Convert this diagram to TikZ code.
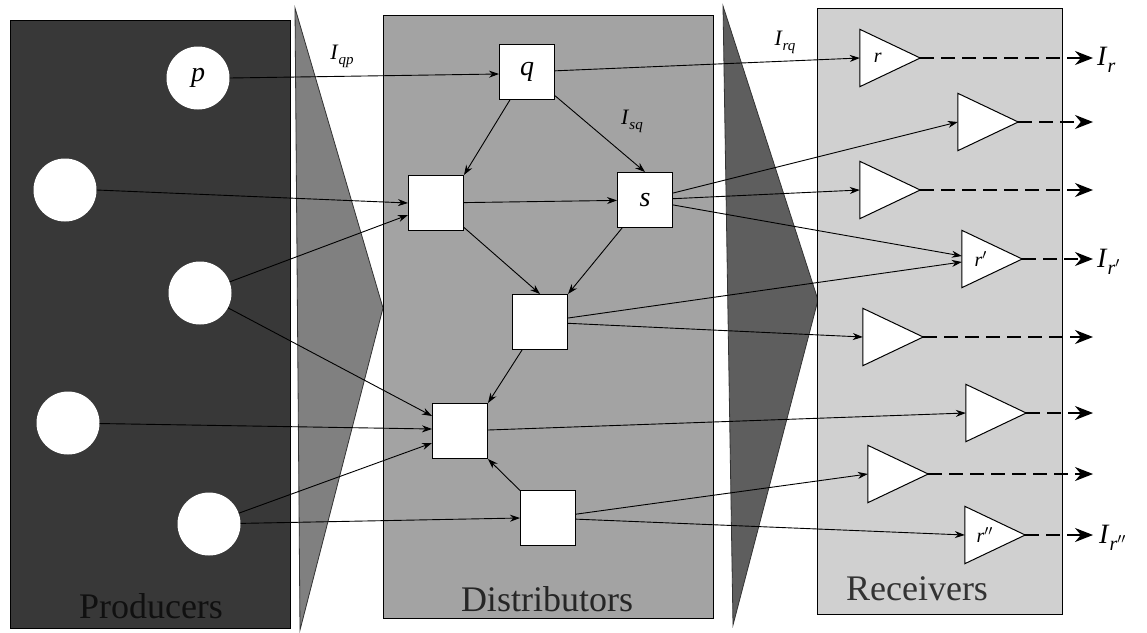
\documentclass[tikz,border=0pt]{standalone}
\usepackage{fontspec}
\setmainfont{Liberation Serif}
\usetikzlibrary{arrows.meta}
\definecolor{prodfill}{HTML}{383838}
\definecolor{wedgeA}{HTML}{808080}
\definecolor{distfill}{HTML}{A3A3A3}
\definecolor{wedgeB}{HTML}{5E5E5E}
\definecolor{recvfill}{HTML}{D0D0D0}
\definecolor{prodtext}{HTML}{101010}
\tikzset{
  panel/.style={draw=black, line width=1pt},
  wedge/.style={draw=black!80, line width=0.8pt},
  paneltitle/.style={font=\fontsize{36}{40}\selectfont\rmfamily, inner sep=0pt},
  prodnode/.style={circle, fill=white, minimum size=63pt, inner sep=0pt, font=\fontsize{28}{30}\selectfont\itshape},
  distbox/.style={rectangle, draw=black, line width=1pt, fill=white, minimum size=55pt, inner sep=0pt, font=\fontsize{28}{30}\selectfont\itshape},
  recvframe/.style={rectangle, minimum width=60pt, minimum height=57pt, inner sep=0pt},
  trishape/.style={draw=black, line width=1pt, fill=white, line join=miter},
  trilabel/.style={inner sep=0pt, font=\fontsize{20}{22}\selectfont\itshape},
  flow/.style={draw=black, line width=0.9pt, -{Stealth[length=10pt,width=7pt]}},
  outflow/.style={draw=black, line width=1.4pt, dash pattern=on 14pt off 7pt, -{Stealth[length=18pt,width=14pt]}},
  flowlabel/.style={inner sep=0pt, font=\fontsize{22}{24}\selectfont},
  outlabel/.style={inner sep=0pt, anchor=west, font=\fontsize{28}{30}\selectfont},
}
\begin{document}
\begin{tikzpicture}[x=1pt, y=-1pt]
\useasboundingbox (0,0) rectangle (1147,632);
% panels and wedges
\fill[white] (0,0) rectangle (1147,632);
\draw[panel, fill=prodfill] (10,20) rectangle (290,628);
\draw[wedge, fill=wedgeA] (295,8) -- (383,308) -- (300,630) -- cycle;
\draw[panel, fill=distfill] (383,15) rectangle (713,618);
\draw[wedge, fill=wedgeB] (723,6) -- (818,300) -- (733,625) -- cycle;
\draw[panel, fill=recvfill] (817,8) rectangle (1062,614);
\node[paneltitle, text=prodtext] (tprod) at (151,606) {Producers};
\node[paneltitle, text=black!85] (tdist) at (547,599) {Distributors};
\node[paneltitle, text=black!80] (trecv) at (917,589) {Receivers};
% producers
\node[prodnode] (p) at (198,78) {p};
\node[prodnode] (c2) at (65,190) {};
\node[prodnode] (c3) at (200,293) {};
\node[prodnode] (c4) at (68,423) {};
\node[prodnode] (c5) at (209,524) {};
% distributors
\node[distbox] (q) at (527,72) {q};
\node[distbox] (b2) at (436,203) {};
\node[distbox] (s) at (645,200) {s};
\node[distbox] (b4) at (540,322) {};
\node[distbox] (b5) at (460,431) {};
\node[distbox] (b6) at (548,518) {};
% receivers
\node[recvframe] (r1) at (890,58) {};
\node[recvframe] (r2) at (988,122) {};
\node[recvframe] (r3) at (890,190) {};
\node[recvframe] (r4) at (992,259) {};
\node[recvframe] (r5) at (893,337) {};
\node[recvframe] (r6) at (996,413) {};
\node[recvframe] (r7) at (898,474) {};
\node[recvframe] (r8) at (995,535) {};
\foreach \t in {r1,r2,r3,r4,r5,r6,r7,r8}{
  \draw[trishape] (\t.north west) -- (\t.east) -- (\t.south west) -- cycle;
}
\node[trilabel] (lr1) at ([xshift=18pt]r1.west) {r};
\node[trilabel] (lr4) at ([xshift=19pt]r4.west) {r$'$};
\node[trilabel] (lr8) at ([xshift=20pt]r8.west) {r$''$};
% producer -> distributor
\draw[flow] (p.east) -- ([yshift=-2pt]q.west);
\draw[flow] (c2.east) -- (b2.west);
\draw[flow] (c3) -- ([yshift=-12pt]b2.west);
\draw[flow] (c3) -- ([yshift=15pt]b5.west);
\draw[flow] (c4) -- ([yshift=2pt]b5.west);
\draw[flow] (c5) -- ([yshift=-12pt]b5.west);
\draw[flow] (c5) -- (b6.west);
% inside distributors
\draw[flow] (q) -- (b2.north east);
\draw[flow] (q) -- (s.north);
\draw[flow] (b2) -- (s);
\draw[flow] (b2) -- (b4.north);
\draw[flow] (s) -- (b4.north east);
\draw[flow] (b4) -- (b5.north east);
\draw[flow] (b6) -- (b5.south east);
% distributor -> receiver
\draw[flow] (q) -- (r1.west);
\draw[flow] (s) -- (r2.west);
\draw[flow] (s) -- (r3.west);
\draw[flow] (s) -- ([yshift=3pt]r4.west);
\draw[flow] (b4) -- ([yshift=-3pt]r4.west);
\draw[flow] (b4) -- (r5.west);
\draw[flow] (b5) -- (r6.west);
\draw[flow] (b6) -- (r7.west);
\draw[flow] (b6) -- (r8.west);
% flow labels
\node[flowlabel] (lqp) at (342,56) {\textit{I}\raisebox{-5pt}{\fontsize{15}{16}\selectfont\textit{qp}}};
\node[flowlabel] (lrq) at (785,42) {\textit{I}\raisebox{-5pt}{\fontsize{15}{16}\selectfont\textit{rq}}};
\node[flowlabel] (lsq) at (632,121) {\textit{I}\raisebox{-5pt}{\fontsize{15}{16}\selectfont\textit{sq}}};
% outputs
\foreach \t/\yy in {r1/58,r2/122,r3/190,r4/259,r5/337,r6/413,r7/474,r8/535}{
  \coordinate (o\t) at (1093,\yy);
  \draw[outflow] (\t.east) -- (o\t);
}
\node[outlabel] (Ir) at (1097,60) {\textit{I}\raisebox{-7pt}{\fontsize{20}{22}\selectfont\textit{r}}};
\node[outlabel] (Ir4) at (1097,262) {\textit{I}\raisebox{-7pt}{\fontsize{20}{22}\selectfont\textit{r}$'$}};
\node[outlabel] (Ir8) at (1099,538) {\textit{I}\raisebox{-7pt}{\fontsize{20}{22}\selectfont\textit{r}$''$}};
\end{tikzpicture}
\end{document}
